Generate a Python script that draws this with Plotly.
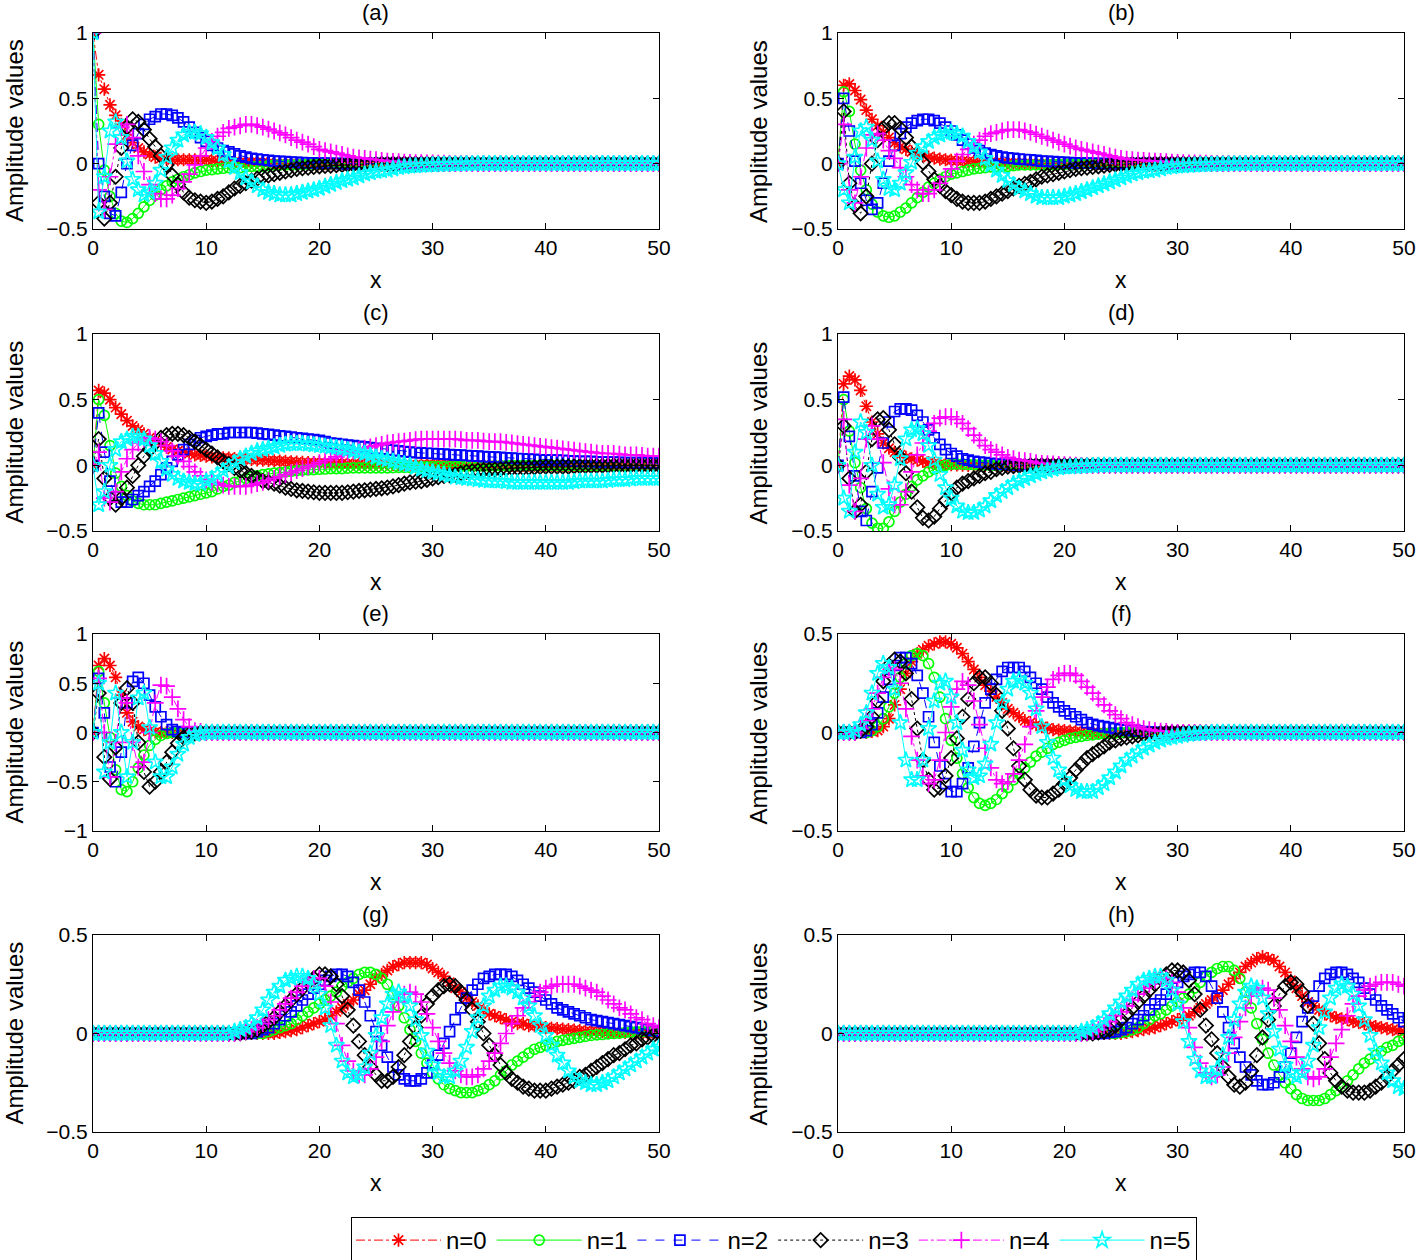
import plotly.graph_objects as go

# sample grid (x = 0, 0.5, ..., 50)
x_vals = [i * 0.5 for i in range(101)]

Z = [0, 0, 0, 0, 0, 0, 0, 0, 0, 0]

# ---------------- panel (a) ----------------
a0 = [1,.68,.57,.45,.37,.3,.22,.16,.12,.09, .07,.05,.04,.035,.03,.03,.03,.03,.03,.03,
      .03,.025,.02,.02,.02,.015,.01,.01,.01,.01, .01,.005,0,0,0,0,0,0,0,0,
      0,0,0,0,0,0,0,0,0,0, 0,0,0,0,0,0,0,0,0,0, 0,0,0,0,0,0,0,0,0,0, 0,0,0,0,0,0,0,0,0,0,
      0,0,0,0,0,0,0,0,0,0, 0,0,0,0,0,0,0,0,0,0, 0]
a1 = [1,.3,-.05,-.25,-.38,-.44,-.45,-.42,-.38,-.33, -.28,-.24,-.2,-.17,-.14,-.12,-.1,-.085,-.07,-.06,
      -.05,-.045,-.04,-.035,-.03,-.03,-.03,-.025,-.02,-.02, -.02,-.015,-.01,-.01,-.01,-.01,-.01,-.005,-.005,-.005,
      0,0,0,0,0,0,0,0,0,0, 0,0,0,0,0,0,0,0,0,0, 0,0,0,0,0,0,0,0,0,0, 0,0,0,0,0,0,0,0,0,0,
      0,0,0,0,0,0,0,0,0,0, 0,0,0,0,0,0,0,0,0,0, 0]
a2 = [1,0,-.25,-.38,-.4,-.22,0,.14,.23,.3, .34,.36,.38,.38,.37,.35,.32,.28,.24,.2,
      .17,.14,.12,.1,.09,.075,.06,.05,.04,.035, .03,.025,.02,.018,.015,.012,.01,.008,.007,.006,
      .005,.004,.003,.002,.001,0,0,0,0,0, 0,0,0,0,0,0,0,0,0,0, 0,0,0,0,0,0,0,0,0,0, 0,0,0,0,0,0,0,0,0,0,
      0,0,0,0,0,0,0,0,0,0, 0,0,0,0,0,0,0,0,0,0, 0]
a3 = [1,-.3,-.42,-.3,-.1,.12,.28,.34,.32,.26, .19,.13,.06,-.01,-.09,-.16,-.22,-.26,-.28,-.29,
      -.3,-.29,-.27,-.25,-.22,-.19,-.17,-.15,-.13,-.115, -.1,-.09,-.08,-.07,-.06,-.05,-.04,-.035,-.03,-.025,
      -.02,-.018,-.015,-.012,-.01,-.008,-.007,-.006,-.005,-.004, -.003,-.002,-.001,0,0,0,0,0,0,0,
      0,0,0,0,0,0,0,0,0,0, 0,0,0,0,0,0,0,0,0,0,
      0,0,0,0,0,0,0,0,0,0, 0,0,0,0,0,0,0,0,0,0, 0]
a4 = [1,-.2,-.35,-.1,.15,.28,.3,.2,.06,-.06, -.16,-.23,-.27,-.27,-.24,-.19,-.14,-.08,-.01,.06,
      .12,.17,.21,.24,.27,.28,.29,.3,.3,.29, .28,.265,.25,.235,.22,.2,.18,.165,.15,.13,
      .11,.1,.09,.08,.07,.06,.05,.045,.04,.035, .03,.025,.02,.018,.015,.012,.01,.008,.007,.006,
      .005,.004,.003,.002,.001,0,0,0,0,0, 0,0,0,0,0,0,0,0,0,0,
      0,0,0,0,0,0,0,0,0,0, 0,0,0,0,0,0,0,0,0,0, 0]
a5 = [1,-.37,-.1,.25,.32,.2,.02,-.12,-.2,-.24, -.22,-.15,-.05,.05,.12,.18,.22,.24,.24,.23,
      .2,.16,.12,.07,.02,-.03,-.07,-.11,-.14,-.17, -.2,-.22,-.23,-.24,-.24,-.24,-.23,-.22,-.21,-.2,
      -.19,-.175,-.16,-.145,-.13,-.12,-.11,-.095,-.08,-.07, -.06,-.055,-.05,-.04,-.03,-.025,-.02,-.018,-.015,-.012,
      -.01,-.008,-.006,-.005,-.004,-.003,-.002,-.001,0,0, 0,0,0,0,0,0,0,0,0,0,
      0,0,0,0,0,0,0,0,0,0, 0,0,0,0,0,0,0,0,0,0, 0]

# ---------------- panel (b) ----------------
b0 = [0,.6,.61,.56,.49,.41,.34,.29,.24,.2, .16,.13,.11,.09,.07,.06,.05,.042,.035,.03,
      .025,.022,.02,.017,.015,.012,.01,.01,.01,.007, .005,.004,.003,.002,.001,0,0,0,0,0,
      0,0,0,0,0,0,0,0,0,0, 0,0,0,0,0,0,0,0,0,0, 0,0,0,0,0,0,0,0,0,0, 0,0,0,0,0,0,0,0,0,0,
      0,0,0,0,0,0,0,0,0,0, 0,0,0,0,0,0,0,0,0,0, 0]
b1 = [0,.55,.4,.15,-.05,-.2,-.31,-.37,-.4,-.41, -.4,-.37,-.34,-.3,-.26,-.22,-.18,-.15,-.12,-.1,
      -.08,-.07,-.06,-.05,-.04,-.035,-.03,-.025,-.02,-.02, -.02,-.015,-.01,-.01,-.01,-.01,-.01,-.008,-.007,-.006,
      -.005,-.004,-.003,-.002,-.001,0,0,0,0,0, 0,0,0,0,0,0,0,0,0,0, 0,0,0,0,0,0,0,0,0,0, 0,0,0,0,0,0,0,0,0,0,
      0,0,0,0,0,0,0,0,0,0, 0,0,0,0,0,0,0,0,0,0, 0]
b2 = [0,.5,.25,.02,-.15,-.28,-.35,-.3,-.15,.02, .14,.23,.28,.31,.33,.34,.34,.33,.31,.28,
      .25,.22,.18,.15,.12,.1,.08,.07,.06,.05, .045,.04,.035,.032,.03,.025,.02,.018,.015,.012,
      .01,.008,.006,.005,.004,.003,.002,.001,0,0, 0,0,0,0,0,0,0,0,0,0, 0,0,0,0,0,0,0,0,0,0, 0,0,0,0,0,0,0,0,0,0,
      0,0,0,0,0,0,0,0,0,0, 0,0,0,0,0,0,0,0,0,0, 0]
b3 = [0,.4,-.15,-.32,-.38,-.25,0,.18,.27,.31, .31,.27,.2,.13,.07,.01,-.06,-.12,-.17,-.21,
      -.24,-.27,-.29,-.3,-.3,-.3,-.29,-.27,-.25,-.23, -.21,-.19,-.17,-.155,-.14,-.12,-.1,-.09,-.08,-.07,
      -.06,-.05,-.04,-.035,-.03,-.025,-.02,-.015,-.01,-.008, -.006,-.005,-.004,-.003,-.002,-.001,0,0,0,0,
      0,0,0,0,0,0,0,0,0,0, 0,0,0,0,0,0,0,0,0,0,
      0,0,0,0,0,0,0,0,0,0, 0,0,0,0,0,0,0,0,0,0, 0]
b4 = [0,.3,-.2,-.3,-.1,.12,.22,.23,.18,.1, .04,-.03,-.1,-.16,-.2,-.23,-.23,-.2,-.15,-.1,
      -.04,.02,.07,.11,.15,.18,.21,.23,.24,.25, .26,.26,.26,.25,.24,.225,.21,.195,.18,.165,
      .15,.135,.12,.11,.1,.09,.08,.07,.06,.05, .04,.035,.03,.027,.025,.022,.02,.017,.015,.012,
      .01,.008,.006,.005,.004,.003,.002,.001,0,0, 0,0,0,0,0,0,0,0,0,0,
      0,0,0,0,0,0,0,0,0,0, 0,0,0,0,0,0,0,0,0,0, 0]
b5 = [0,-.2,-.3,.05,.25,.28,.18,.02,-.12,-.19, -.2,-.15,-.07,.01,.08,.13,.17,.2,.22,.23,
      .24,.23,.21,.17,.13,.09,.04,-.01,-.05,-.09, -.13,-.16,-.19,-.21,-.23,-.25,-.26,-.26,-.26,-.26,
      -.25,-.24,-.23,-.215,-.2,-.185,-.17,-.155,-.14,-.125, -.11,-.095,-.08,-.07,-.06,-.055,-.05,-.04,-.03,-.025,
      -.02,-.018,-.015,-.012,-.01,-.008,-.006,-.005,-.004,-.003, -.002,-.001,0,0,0,0,0,0,0,0,
      0,0,0,0,0,0,0,0,0,0, 0,0,0,0,0,0,0,0,0,0, 0]

# ---------------- panel (c) ----------------
c0 = [0,.57,.55,.5,.44,.39,.34,.3,.27,.24, .21,.19,.16,.14,.12,.11,.1,.09,.08,.075,
      .07,.065,.06,.057,.055,.052,.05,.047,.045,.042, .04,.037,.035,.032,.03,.027,.025,.022,.02,.02,
      .02,.017,.015,.015,.015,.012,.01,.01,.01,.01, .01,.01,.01,.008,.007,.006,.005,.005,.005,.005,
      .005,.004,.003,.002,.001,0,0,0,0,0, 0,0,0,0,0,0,0,0,0,0,
      0,0,0,0,0,0,0,0,0,0, 0,0,0,0,0,0,0,0,0,0, 0]
c1 = [0,.5,.38,.15,-.06,-.16,-.23,-.27,-.29,-.3, -.3,-.3,-.29,-.28,-.27,-.26,-.25,-.24,-.23,-.22,
      -.21,-.2,-.18,-.16,-.15,-.13,-.12,-.1,-.09,-.08, -.07,-.065,-.06,-.055,-.05,-.045,-.04,-.037,-.035,-.032,
      -.03,-.028,-.025,-.025,-.025,-.022,-.02,-.02,-.02,-.02, -.02,-.02,-.02,-.018,-.015,-.015,-.015,-.012,-.01,-.01,
      -.01,-.01,-.01,-.01,-.01,-.008,-.007,-.006,-.005,-.005, -.005,-.004,-.003,-.002,-.001,0,0,0,0,0,
      0,0,0,0,0,0,0,0,0,0, 0,0,0,0,0,0,0,0,0,0, 0]
c2 = [0,.4,.1,-.12,-.24,-.28,-.28,-.26,-.23,-.2, -.16,-.12,-.07,-.02,.03,.08,.12,.16,.19,.21,
      .22,.23,.24,.24,.25,.25,.25,.25,.25,.245, .24,.235,.23,.225,.22,.215,.21,.205,.2,.195,
      .19,.18,.17,.165,.16,.155,.15,.145,.14,.135, .13,.125,.12,.115,.11,.105,.1,.097,.095,.092,
      .09,.087,.085,.082,.08,.077,.075,.072,.07,.067, .065,.062,.06,.057,.055,.052,.05,.047,.045,.042,
      .04,.04,.04,.037,.035,.032,.03,.03,.03,.027, .025,.025,.025,.022,.02,.02,.02,.02,.02,.017, .015]
c3 = [0,.2,-.1,-.25,-.3,-.25,-.17,-.08,0,.07, .12,.17,.21,.23,.24,.24,.23,.21,.18,.15,
      .12,.09,.06,.03,.01,-.02,-.04,-.06,-.08,-.1, -.12,-.13,-.14,-.155,-.17,-.18,-.19,-.195,-.2,-.205,
      -.21,-.21,-.21,-.21,-.21,-.205,-.2,-.195,-.19,-.185, -.18,-.175,-.17,-.16,-.15,-.14,-.13,-.125,-.12,-.11,
      -.1,-.09,-.08,-.075,-.07,-.06,-.05,-.045,-.04,-.037, -.035,-.032,-.03,-.025,-.02,-.02,-.02,-.017,-.015,-.012,
      -.01,-.01,-.01,-.01,-.01,-.008,-.007,-.006,-.005,-.004, -.003,-.002,-.001,0,0,0,0,0,0,0, 0]
c4 = [0,.1,-.25,-.28,-.2,-.05,.05,.12,.17,.2, .21,.2,.18,.15,.11,.07,.03,-.01,-.05,-.08,
      -.11,-.13,-.14,-.15,-.16,-.16,-.16,-.16,-.15,-.14, -.13,-.115,-.1,-.085,-.07,-.055,-.04,-.025,-.01,.005,
      .02,.035,.05,.065,.08,.095,.11,.12,.13,.14, .15,.16,.17,.175,.18,.185,.19,.195,.2,.2,
      .2,.2,.2,.2,.2,.195,.19,.19,.19,.185, .18,.18,.18,.175,.17,.165,.16,.155,.15,.145,
      .14,.135,.13,.125,.12,.115,.11,.105,.1,.095, .09,.09,.09,.085,.08,.08,.08,.075,.07,.07, .07]
c5 = [0,-.3,-.2,0,.12,.18,.2,.22,.22,.2, .15,.09,.03,-.03,-.07,-.1,-.12,-.13,-.14,-.14,
      -.12,-.1,-.07,-.04,-.01,.02,.05,.07,.09,.11, .12,.13,.14,.15,.16,.165,.165,.165,.16,.155,
      .15,.145,.14,.135,.13,.12,.11,.1,.09,.075, .06,.05,.04,.03,.02,.01,0,-.015,-.03,-.04,
      -.05,-.06,-.07,-.08,-.09,-.095,-.1,-.105,-.11,-.115, -.12,-.12,-.12,-.125,-.13,-.13,-.13,-.13,-.13,-.13,
      -.13,-.13,-.13,-.13,-.13,-.125,-.12,-.12,-.12,-.12, -.12,-.115,-.11,-.11,-.11,-.105,-.1,-.1,-.1,-.1, -.1]

# ---------------- panel (d) ----------------
d0 = [0,.62,.68,.65,.57,.45,.33,.24,.17,.13, .1,.08,.06,.05,.04,.03,.02,.015,.01,.007,
      .005,.003,.001,0,0,0,0,0,0,0, 0,0,0,0,0,0,0,0,0,0,
      0,0,0,0,0,0,0,0,0,0, 0,0,0,0,0,0,0,0,0,0, 0,0,0,0,0,0,0,0,0,0, 0,0,0,0,0,0,0,0,0,0,
      0,0,0,0,0,0,0,0,0,0, 0,0,0,0,0,0,0,0,0,0, 0]
d1 = [0,.5,.26,.02,-.17,-.33,-.44,-.48,-.48,-.43, -.35,-.28,-.22,-.16,-.11,-.08,-.05,-.03,-.01,0,
      .01,.01,.01,.008,.005,.003,.001,0,0,0, 0,0,0,0,0,0,0,0,0,0,
      0,0,0,0,0,0,0,0,0,0, 0,0,0,0,0,0,0,0,0,0, 0,0,0,0,0,0,0,0,0,0, 0,0,0,0,0,0,0,0,0,0,
      0,0,0,0,0,0,0,0,0,0, 0,0,0,0,0,0,0,0,0,0, 0]
d2 = [0,.52,.22,-.08,-.35,-.42,-.2,-.02,.17,.33, .41,.43,.43,.42,.38,.33,.27,.21,.16,.12,
      .09,.07,.05,.04,.03,.025,.02,.015,.01,.007, .005,.003,.001,0,0,0,0,0,0,0,
      0,0,0,0,0,0,0,0,0,0, 0,0,0,0,0,0,0,0,0,0, 0,0,0,0,0,0,0,0,0,0, 0,0,0,0,0,0,0,0,0,0,
      0,0,0,0,0,0,0,0,0,0, 0,0,0,0,0,0,0,0,0,0, 0]
d3 = [0,.3,-.1,-.35,-.3,-.05,.2,.35,.36,.27, .16,.06,-.06,-.2,-.32,-.4,-.42,-.39,-.33,-.27,
      -.21,-.17,-.14,-.12,-.1,-.08,-.06,-.05,-.03,-.02, -.01,-.007,-.005,-.003,-.001,0,0,0,0,0,
      0,0,0,0,0,0,0,0,0,0, 0,0,0,0,0,0,0,0,0,0, 0,0,0,0,0,0,0,0,0,0, 0,0,0,0,0,0,0,0,0,0,
      0,0,0,0,0,0,0,0,0,0, 0,0,0,0,0,0,0,0,0,0, 0]
d4 = [0,.35,-.15,-.35,-.1,.2,.3,.2,.02,-.18, -.3,-.3,-.2,-.05,.08,.17,.26,.32,.36,.37,
      .37,.35,.32,.28,.23,.19,.15,.12,.1,.08, .06,.05,.04,.035,.03,.02,.015,.012,.01,.007,
      .005,.003,.001,0,0,0,0,0,0,0, 0,0,0,0,0,0,0,0,0,0, 0,0,0,0,0,0,0,0,0,0, 0,0,0,0,0,0,0,0,0,0,
      0,0,0,0,0,0,0,0,0,0, 0,0,0,0,0,0,0,0,0,0, 0]
d5 = [0,-.25,-.35,.1,.33,.25,0,-.22,-.32,-.3, -.15,.05,.2,.27,.28,.24,.15,.04,-.07,-.17,
      -.25,-.31,-.35,-.36,-.36,-.34,-.31,-.27,-.23,-.2, -.17,-.14,-.12,-.1,-.08,-.065,-.05,-.04,-.03,-.02,
      -.015,-.012,-.01,-.007,-.005,-.003,-.001,0,0,0, 0,0,0,0,0,0,0,0,0,0, 0,0,0,0,0,0,0,0,0,0, 0,0,0,0,0,0,0,0,0,0,
      0,0,0,0,0,0,0,0,0,0, 0,0,0,0,0,0,0,0,0,0, 0]

# ---------------- panel (e) ----------------
e0 = [0,.68,.75,.68,.56,.38,.2,.11,.06,.03, .015,.005,0,0,0,0,0,0,0,0] + Z * 8 + [0]
e1 = [0,.62,.3,-.05,-.38,-.58,-.6,-.5,-.36,-.23, -.13,-.07,-.03,-.01,0,0,0,0,0,0] + Z * 8 + [0]
e2 = [0,.55,.2,-.35,-.5,-.2,.3,.52,.56,.5, .38,.26,.16,.08,.03,.01,0,0,0,0] + Z * 8 + [0]
e3 = [0,.4,-.25,-.47,-.15,.3,.45,.3,-.1,-.4, -.55,-.5,-.4,-.3,-.2,-.11,-.05,-.02,-.01,0] + Z * 8 + [0]
e4 = [0,.55,0,-.45,-.1,.35,.3,-.1,-.35,-.3, 0,.3,.48,.47,.36,.24,.13,.06,.02,.01] + Z * 8 + [0]
e5 = [0,.5,-.4,-.1,.4,0,-.45,-.1,.35,.4, .05,-.3,-.45,-.45,-.35,-.22,-.12,-.05,-.02,-.01] + Z * 8 + [0]

# ---------------- panel (f) ----------------
f0 = [0,0,0,0,0,0,.005,.01,.03,.07, .14,.22,.3,.36,.4,.42,.44,.45,.46,.46,
      .45,.43,.4,.36,.32,.28,.24,.21,.18,.15, .12,.1,.08,.06,.05,.04,.03,.022,.015,.012,
      .01,.007,.005,.003,.001,0,0,0,0,0, 0,0,0,0,0,0,0,0,0,0, 0,0,0,0,0,0,0,0,0,0, 0,0,0,0,0,0,0,0,0,0,
      0,0,0,0,0,0,0,0,0,0, 0,0,0,0,0,0,0,0,0,0, 0]
f1 = [0,0,0,0,0,0,.01,.03,.07,.13, .2,.28,.35,.39,.4,.39,.35,.28,.18,.07,
      -.04,-.13,-.21,-.28,-.33,-.36,-.37,-.36,-.34,-.31, -.28,-.24,-.21,-.18,-.15,-.12,-.1,-.08,-.06,-.05,
      -.04,-.03,-.025,-.02,-.015,-.012,-.008,-.006,-.004,-.002, 0,0,0,0,0,0,0,0,0,0,
      0,0,0,0,0,0,0,0,0,0, 0,0,0,0,0,0,0,0,0,0,
      0,0,0,0,0,0,0,0,0,0, 0,0,0,0,0,0,0,0,0,0, 0]
f2 = [0,0,0,0,0,.01,.04,.1,.18,.27, .34,.38,.38,.35,.29,.2,.08,-.05,-.17,-.26,
      -.3,-.3,-.26,-.18,-.07,.05,.15,.22,.27,.31, .33,.33,.33,.31,.28,.25,.22,.18,.15,.13,
      .11,.095,.08,.065,.05,.042,.035,.03,.025,.02, .015,.012,.01,.007,.005,.003,.001,0,0,0,
      0,0,0,0,0,0,0,0,0,0, 0,0,0,0,0,0,0,0,0,0,
      0,0,0,0,0,0,0,0,0,0, 0,0,0,0,0,0,0,0,0,0, 0]
f3 = [0,0,0,0,.01,.03,.08,.16,.26,.34, .37,.36,.3,.17,.02,-.14,-.24,-.29,-.28,-.22,
      -.13,-.03,.08,.17,.25,.28,.28,.25,.19,.11, .02,-.08,-.17,-.24,-.29,-.32,-.33,-.33,-.31,-.29,
      -.26,-.23,-.19,-.16,-.13,-.11,-.09,-.07,-.05,-.04, -.03,-.025,-.02,-.015,-.01,-.007,-.005,-.003,-.001,0,
      0,0,0,0,0,0,0,0,0,0, 0,0,0,0,0,0,0,0,0,0,
      0,0,0,0,0,0,0,0,0,0, 0,0,0,0,0,0,0,0,0,0, 0]
f4 = [0,0,0,0,.02,.06,.12,.2,.28,.33, .32,.25,.12,-.02,-.14,-.22,-.26,-.24,-.14,0,
      .13,.22,.26,.24,.16,.04,-.08,-.18,-.24,-.26, -.25,-.21,-.14,-.06,.03,.11,.18,.23,.27,.29,
      .3,.3,.29,.26,.23,.2,.17,.14,.11,.09, .07,.05,.04,.03,.02,.015,.01,.007,.005,.002,
      0,0,0,0,0,0,0,0,0,0, 0,0,0,0,0,0,0,0,0,0,
      0,0,0,0,0,0,0,0,0,0, 0,0,0,0,0,0,0,0,0,0, 0]
f5 = [0,0,0,.01,.04,.1,.2,.3,.35,.33, .22,.05,-.14,-.24,-.24,-.14,.02,.16,.25,.26,
      .18,.05,-.09,-.19,-.23,-.22,-.16,-.06,.05,.15, .22,.26,.27,.25,.2,.12,.03,-.05,-.13,-.19,
      -.24,-.27,-.29,-.3,-.3,-.3,-.28,-.26,-.23,-.2, -.17,-.14,-.12,-.1,-.08,-.065,-.05,-.04,-.03,-.025,
      -.02,-.015,-.01,-.007,-.005,-.003,-.001,0,0,0, 0,0,0,0,0,0,0,0,0,0,
      0,0,0,0,0,0,0,0,0,0, 0,0,0,0,0,0,0,0,0,0, 0]

# ---------------- panel (g) ----------------
g0 = [0,0,0,0,0,0,0,0,0,0, 0,0,0,0,0,0,0,0,0,0, 0,0,0,0,0,0,0,0,0,0,
      0,0,0,.005,.01,.015,.02,.03,.04,.05, .06,.07,.09,.11,.13,.15,.17,.2,.22,.25,
      .28,.3,.32,.34,.35,.36,.36,.36,.36,.35, .33,.31,.29,.26,.23,.21,.18,.16,.14,.12,
      .1,.09,.08,.07,.06,.05,.05,.04,.04,.035, .03,.027,.025,.022,.02,.017,.015,.012,.01,.01,
      .01,.007,.005,.005,.005,.003,.002,.001,0,0, 0]
g1 = [0,0,0,0,0,0,0,0,0,0, 0,0,0,0,0,0,0,0,0,0, 0,0,0,0,0,0,0,0,0,0,
      0,.01,.02,.03,.04,.05,.07,.09,.11,.13, .15,.17,.19,.21,.24,.26,.28,.3,.31,.31,
      .3,.28,.25,.2,.14,.08,.02,-.04,-.1,-.15, -.2,-.23,-.26,-.28,-.29,-.3,-.3,-.3,-.29,-.28,
      -.26,-.24,-.21,-.19,-.16,-.14,-.12,-.1,-.08,-.07, -.06,-.05,-.04,-.035,-.03,-.025,-.02,-.015,-.01,-.007,
      -.005,-.002,0,.002,.005,.007,.01,.01,.01,.01, .01]
g2 = [0,0,0,0,0,0,0,0,0,0, 0,0,0,0,0,0,0,0,0,0, 0,0,0,0,0,0,0,0,0,.01,
      .02,.03,.05,.07,.09,.11,.14,.17,.2,.23, .25,.27,.29,.3,.3,.29,.26,.22,.16,.09,
      .01,-.06,-.12,-.17,-.21,-.23,-.24,-.24,-.23,-.2, -.16,-.11,-.05,.01,.07,.13,.18,.22,.25,.28,
      .29,.3,.3,.3,.29,.27,.25,.23,.21,.19, .17,.15,.13,.12,.11,.1,.09,.08,.07,.065,
      .06,.055,.05,.045,.04,.035,.03,.025,.02,.015, .01]
g3 = [0,0,0,0,0,0,0,0,0,0, 0,0,0,0,0,0,0,0,0,0, 0,0,0,0,0,0,0,.005,.01,.02,
      .04,.06,.08,.11,.14,.17,.2,.23,.26,.28, .3,.3,.29,.25,.19,.12,.04,-.04,-.11,-.17,
      -.21,-.24,-.24,-.22,-.17,-.11,-.04,.03,.09,.15, .19,.22,.24,.25,.24,.21,.17,.12,.06,0,
      -.06,-.11,-.16,-.2,-.23,-.25,-.27,-.28,-.29,-.29, -.29,-.28,-.27,-.26,-.25,-.24,-.22,-.21,-.19,-.17,
      -.15,-.13,-.11,-.1,-.08,-.06,-.05,-.03,-.02,-.01, 0]
g4 = [0,0,0,0,0,0,0,0,0,0, 0,0,0,0,0,0,0,0,0,0, 0,0,0,0,0,0,.005,.01,.02,.03,
      .05,.07,.09,.12,.15,.18,.21,.24,.26,.28, .28,.24,.16,.05,-.06,-.14,-.19,-.21,-.21,-.18,
      -.12,-.04,.04,.11,.16,.2,.21,.2,.16,.1, .03,-.04,-.1,-.15,-.19,-.21,-.22,-.22,-.21,-.18,
      -.14,-.1,-.05,0,.05,.09,.13,.16,.19,.21, .23,.24,.25,.25,.25,.25,.24,.23,.22,.21,
      .19,.17,.15,.13,.12,.1,.08,.07,.05,.04, .03]
g5 = [0,0,0,0,0,0,0,0,0,0, 0,0,0,0,0,0,0,0,0,0, 0,0,0,0,0,.01,.02,.03,.05,.08,
      .12,.17,.21,.24,.27,.28,.29,.29,.28,.25, .2,.13,.04,-.06,-.14,-.2,-.22,-.21,-.17,-.1,
      -.01,.08,.15,.2,.21,.19,.14,.07,-.01,-.09, -.16,-.2,-.22,-.22,-.19,-.14,-.07,.01,.08,.14,
      .19,.22,.24,.24,.23,.21,.18,.14,.09,.04, -.01,-.06,-.11,-.15,-.19,-.22,-.24,-.25,-.26,-.26,
      -.25,-.24,-.22,-.2,-.18,-.16,-.14,-.12,-.1,-.08, -.07]

# ---------------- panel (h) ----------------
h0 = [0,0,0,0,0,0,0,0,0,0, 0,0,0,0,0,0,0,0,0,0, 0,0,0,0,0,0,0,0,0,0,
      0,0,0,0,0,0,0,0,0,0, 0,0,0,0,0,0,0,0,0,0,
      0,.005,.01,.015,.02,.025,.03,.04,.05,.06, .07,.08,.09,.11,.13,.15,.17,.19,.22,.25,
      .28,.31,.34,.36,.38,.39,.38,.37,.34,.31, .27,.23,.19,.16,.14,.12,.1,.09,.08,.075,
      .07,.06,.055,.05,.04,.035,.03,.025,.02,.015, .01]
h1 = [0,0,0,0,0,0,0,0,0,0, 0,0,0,0,0,0,0,0,0,0, 0,0,0,0,0,0,0,0,0,0,
      0,0,0,0,0,0,0,0,0,0, 0,0,0,0,0,0,0,0,0,0,
      .005,.01,.02,.03,.05,.07,.09,.1,.12,.14, .16,.18,.2,.23,.26,.29,.31,.33,.34,.34,
      .32,.28,.21,.13,.05,-.03,-.1,-.16,-.21,-.25, -.28,-.31,-.33,-.34,-.34,-.34,-.33,-.31,-.29,-.27,
      -.24,-.21,-.18,-.15,-.13,-.11,-.09,-.07,-.06,-.04, -.03]
h2 = [0,0,0,0,0,0,0,0,0,0, 0,0,0,0,0,0,0,0,0,0, 0,0,0,0,0,0,0,0,0,0,
      0,0,0,0,0,0,0,0,0,0, 0,0,0,0,0,0,0,0,.005,.01,
      .02,.03,.05,.07,.09,.12,.15,.17,.2,.23, .26,.29,.3,.31,.31,.29,.24,.18,.11,.03,
      -.05,-.12,-.17,-.21,-.24,-.26,-.26,-.25,-.22,-.17, -.1,-.02,.06,.13,.19,.24,.28,.3,.31,.31,
      .3,.28,.26,.23,.2,.17,.14,.12,.1,.08, .06]
h3 = [0,0,0,0,0,0,0,0,0,0, 0,0,0,0,0,0,0,0,0,0, 0,0,0,0,0,0,0,0,0,0,
      0,0,0,0,0,0,0,0,0,0, 0,0,0,0,0,0,.005,.01,.02,.04,
      .07,.1,.13,.16,.19,.22,.25,.28,.3,.32, .32,.31,.27,.2,.12,.04,-.03,-.1,-.17,-.22,
      -.26,-.27,-.25,-.19,-.11,-.02,.07,.14,.2,.24, .26,.25,.21,.14,.05,-.05,-.13,-.2,-.24,-.27,
      -.29,-.3,-.3,-.3,-.29,-.27,-.25,-.22,-.19,-.16, -.13]
h4 = [0,0,0,0,0,0,0,0,0,0, 0,0,0,0,0,0,0,0,0,0, 0,0,0,0,0,0,0,0,0,0,
      0,0,0,0,0,0,0,0,0,0, 0,0,0,0,.005,.01,.02,.04,.06,.09,
      .11,.14,.17,.2,.23,.25,.27,.28,.28,.26, .21,.13,.03,-.07,-.15,-.2,-.22,-.21,-.17,-.1,
      -.02,.06,.13,.19,.22,.23,.22,.18,.12,.04, -.04,-.12,-.18,-.22,-.23,-.22,-.18,-.12,-.05,.02,
      .09,.15,.19,.22,.24,.25,.26,.26,.26,.25, .24]
h5 = [0,0,0,0,0,0,0,0,0,0, 0,0,0,0,0,0,0,0,0,0, 0,0,0,0,0,0,0,0,0,0,
      0,0,0,0,0,0,0,0,0,0, 0,0,0,.01,.02,.03,.05,.07,.1,.13,
      .16,.19,.22,.25,.27,.28,.29,.29,.27,.22, .15,.06,-.04,-.13,-.19,-.22,-.22,-.18,-.11,-.02,
      .07,.15,.21,.24,.23,.18,.1,.01,-.08,-.16, -.2,-.22,-.2,-.14,-.06,.03,.11,.18,.23,.25,
      .24,.2,.14,.07,-.01,-.09,-.15,-.2,-.24,-.27, -.28]

panel_titles = ["(a)", "(b)", "(c)", "(d)", "(e)", "(f)", "(g)", "(h)"]
series_names = ["n=0", "n=1", "n=2", "n=3", "n=4", "n=5"]
y_ranges = [[-0.5, 1], [-0.5, 1], [-0.5, 1], [-0.5, 1], [-1, 1], [-0.5, 0.5], [-0.5, 0.5], [-0.5, 0.5]]
y_ticks = [[-0.5, 0, 0.5, 1]] * 4 + [[-1, -0.5, 0, 0.5, 1]] + [[-0.5, 0, 0.5]] * 3
x_ticks = [0, 10, 20, 30, 40, 50]

panels = [
    [a0, a1, a2, a3, a4, a5],
    [b0, b1, b2, b3, b4, b5],
    [c0, c1, c2, c3, c4, c5],
    [d0, d1, d2, d3, d4, d5],
    [e0, e1, e2, e3, e4, e5],
    [f0, f1, f2, f3, f4, f5],
    [g0, g1, g2, g3, g4, g5],
    [h0, h1, h2, h3, h4, h5],
]

bad = []
for p, sers in zip(panel_titles, panels):
    for k, s in enumerate(sers):
        if len(s) != len(x_vals):
            bad.append(f"{p} n={k}: {len(s)}")
if bad:
    raise ValueError("length mismatch: " + "; ".join(bad))

# styles (MATLAB-like)
styles = [
    dict(color="#FF0000", dash="dashdot", symbol="asterisk-open", size=11),
    dict(color="#00FF00", dash="solid", symbol="circle-open", size=10),
    dict(color="#0000FF", dash="dash", symbol="square-open", size=10),
    dict(color="#000000", dash="dot", symbol="diamond-open", size=11),
    dict(color="#FF00FF", dash="dashdot", symbol="cross-thin-open", size=12),
    dict(color="#00FFFF", dash="solid", symbol="star-open", size=12),
]

W, H = 1418, 1260
col_px = [(93, 659), (838, 1404)]
row_px = [(33, 229), (334, 531), (634, 831), (935, 1132)]
FONT = "Liberation Sans, Arial, Helvetica, sans-serif"

fig = go.Figure()
layout = dict(
    width=W, height=H, paper_bgcolor="white", plot_bgcolor="white",
    margin=dict(l=0, r=0, t=0, b=0, autoexpand=False), showlegend=True,
    font=dict(family=FONT, color="black"),
)
annotations = []

for i, (title, sers) in enumerate(zip(panel_titles, panels)):
    r, c = divmod(i, 2)
    x0p, x1p = col_px[c]
    y0p, y1p = row_px[r]
    xd = [x0p / W, x1p / W]
    yd = [1 - y1p / H, 1 - y0p / H]
    ax = "" if i == 0 else str(i + 1)
    common = dict(showline=True, linecolor="black", linewidth=1, mirror="ticks",
                  ticks="inside", ticklen=6, tickcolor="black", tickwidth=1,
                  showgrid=False, zeroline=False, automargin=False,
                  tickfont=dict(family=FONT, size=21, color="black"))
    layout["xaxis" + ax] = dict(common, domain=xd, anchor="y" + ax, range=[0, 50],
                                tickvals=x_ticks)
    layout["yaxis" + ax] = dict(common, domain=yd, anchor="x" + ax, range=y_ranges[i],
                                tickvals=y_ticks[i])
    for k, s in enumerate(sers):
        st = styles[k]
        fig.add_trace(go.Scatter(
            x=x_vals, y=s, mode="lines+markers", name=series_names[k],
            legendgroup=series_names[k], showlegend=(i == 0),
            xaxis="x" + ax, yaxis="y" + ax, cliponaxis=True,
            line=dict(color=st["color"], dash=st["dash"], width=1),
            marker=dict(symbol=st["symbol"], size=st["size"], color=st["color"],
                        line=dict(color=st["color"], width=1.7)),
        ))
    xc = (xd[0] + xd[1]) / 2
    annotations.append(dict(text=title, x=xc, y=yd[1], xref="paper", yref="paper",
                            xanchor="center", yanchor="middle", yshift=21, showarrow=False,
                            font=dict(family=FONT, size=22, color="black")))
    annotations.append(dict(text="x", x=xc, y=yd[0], xref="paper", yref="paper",
                            xanchor="center", yanchor="middle", yshift=-51, showarrow=False,
                            font=dict(family=FONT, size=23, color="black")))
    annotations.append(dict(text="Amplitude values", x=(14 if c == 0 else 758) / W,
                            y=(yd[0] + yd[1]) / 2, xref="paper", yref="paper",
                            xanchor="center", yanchor="middle", textangle=-90, showarrow=False,
                            font=dict(family=FONT, size=24, color="black")))

layout["annotations"] = annotations
layout["legend"] = dict(orientation="h", x=774 / W, xanchor="center", y=1 - 1217 / H,
                        yanchor="top", bordercolor="black", borderwidth=1, bgcolor="white",
                        font=dict(family=FONT, size=24, color="black"), itemwidth=85,
                        tracegroupgap=0)
fig.update_layout(**layout)
fig.write_html("out.html", config={"displayModeBar": False},
               post_script="document.body.style.margin='0';document.body.style.padding='0';"
                           "document.body.style.overflow='hidden';")
